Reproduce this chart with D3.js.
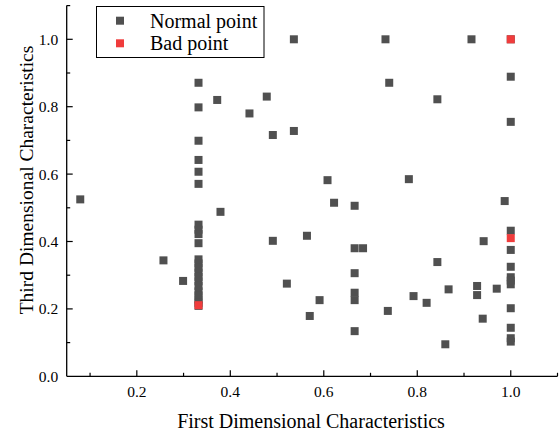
<!DOCTYPE html>
<html>
<head>
<meta charset="utf-8">
<script src="https://cdn.jsdelivr.net/npm/d3@7"></script>
<style>
  body { margin: 0; background: #fff; }
  text { font-family: "Liberation Serif", "Times New Roman", serif; fill: #000; }
</style>
</head>
<body>
<script>
// normal points (first dim, third dim)
var normalX = [0.079, 0.332, 0.332, 0.332, 0.332, 0.332, 0.332, 0.372, 0.379,
  0.332, 0.332, 0.332, 0.332, 0.332, 0.332, 0.332, 0.332, 0.332, 0.332, 0.332, 0.332, 0.332, 0.332, 0.332, 0.332,
  0.257, 0.299, 0.536, 0.732, 0.740, 0.478, 0.441, 0.491, 0.536, 0.608, 0.622,
  0.666, 0.491, 0.564, 0.666, 0.684, 0.666, 0.521, 0.591, 0.666, 0.666, 0.570, 0.666, 0.737,
  0.916, 1.0, 1.0, 0.843, 1.0, 0.782, 0.987, 1.0, 0.942, 1.0, 0.843, 1.0, 1.0, 1.0, 1.0,
  0.928, 0.928, 0.970, 0.867, 0.792, 0.820, 1.0, 0.940, 1.0, 1.0, 1.0, 0.860];
var normalY = [0.525, 0.871, 0.798, 0.699, 0.642, 0.607, 0.571, 0.820, 0.488,
  0.450, 0.435, 0.422, 0.395, 0.347, 0.335, 0.322, 0.308, 0.295, 0.282, 0.268, 0.252, 0.240, 0.228, 0.218, 0.209,
  0.344, 0.283, 1.0, 1.0, 0.871, 0.830, 0.780, 0.716, 0.728, 0.582, 0.515,
  0.506, 0.402, 0.417, 0.380, 0.380, 0.306, 0.275, 0.226, 0.248, 0.226, 0.179, 0.134, 0.194,
  1.0, 1.0, 0.889, 0.822, 0.755, 0.585, 0.520, 0.432, 0.401, 0.375, 0.339, 0.325, 0.294, 0.284, 0.273,
  0.268, 0.241, 0.260, 0.258, 0.238, 0.218, 0.202, 0.171, 0.144, 0.113, 0.103, 0.095];
// bad points
var badX = [0.332, 1.0, 1.0];
var badY = [0.211, 1.0, 0.410];

var xTicks = [0.2, 0.4, 0.6, 0.8, 1.0];
var yTicks = [0.0, 0.2, 0.4, 0.6, 0.8, 1.0];
var legendNames = ["Normal point", "Bad point"];
var colors = ["#505050", "#f03c3c"];

var width = 560, height = 432;
var svg = d3.select("body").append("svg")
    .attr("width", width)
    .attr("height", height);

var x = d3.scaleLinear().domain([0.05, 1.1]).range([66.7, 557.5]);
var y = d3.scaleLinear().domain([0, 1.1]).range([376.3, 5.6]);

// minor ticks every 0.1, majors are longer
var xMinor = d3.range(0.1, 1.11, 0.1);
var yMinor = d3.range(0.1, 1.11, 0.1);
function isMajor(list, d) {
    return list.some(function(t){ return Math.abs(t - d) < 1e-6; });
}

var xAxis = svg.append("g").attr("transform", "translate(0," + y(0) + ")");
xAxis.append("line").attr("x1", x.range()[0]).attr("x2", x.range()[1]).attr("stroke", "#000").attr("stroke-width", 1.3);
xAxis.selectAll(".minor").data(xMinor).enter().append("line")
    .attr("x1", function(d){ return x(d); }).attr("x2", function(d){ return x(d); })
    .attr("y1", 0).attr("y2", function(d){ return isMajor(xTicks, d) ? -6 : -3.5; })
    .attr("stroke", "#000").attr("stroke-width", 1.2);
xAxis.selectAll("text").data(xTicks).enter().append("text")
    .attr("x", function(d){ return x(d); })
    .attr("y", 21)
    .attr("text-anchor", "middle")
    .attr("font-size", 15.5)
    .text(function(d){ return d.toFixed(1); });

var yAxis = svg.append("g").attr("transform", "translate(" + x.range()[0] + ",0)");
yAxis.append("line").attr("y1", y.range()[0]).attr("y2", y.range()[1]).attr("stroke", "#000").attr("stroke-width", 1.3);
yAxis.selectAll(".minor").data(yMinor).enter().append("line")
    .attr("y1", function(d){ return y(d); }).attr("y2", function(d){ return y(d); })
    .attr("x1", 0).attr("x2", function(d){ return isMajor(yTicks, d) ? 6 : 3.5; })
    .attr("stroke", "#000").attr("stroke-width", 1.2);
yAxis.selectAll("text").data(yTicks).enter().append("text")
    .attr("x", -8.5)
    .attr("y", function(d){ return y(d) + 5.5; })
    .attr("text-anchor", "end")
    .attr("font-size", 15.5)
    .text(function(d){ return d.toFixed(1); });

// axis titles
svg.append("text")
    .attr("x", 311)
    .attr("y", 428)
    .attr("text-anchor", "middle")
    .attr("font-size", 20)
    .text("First Dimensional Characteristics");
svg.append("text")
    .attr("transform", "translate(32.5,180) rotate(-90)")
    .attr("text-anchor", "middle")
    .attr("font-size", 19.5)
    .text("Third Dimensional Characteristics");

// points
var normal = normalX.map(function(d, i){ return [d, normalY[i]]; });
var bad = badX.map(function(d, i){ return [d, badY[i]]; });
var s = 8;
svg.append("g").selectAll("rect").data(normal).enter().append("rect")
    .attr("x", function(d){ return x(d[0]) - s / 2; })
    .attr("y", function(d){ return y(d[1]) - s / 2; })
    .attr("width", s).attr("height", s)
    .attr("fill", colors[0]);
svg.append("g").selectAll("rect").data(bad).enter().append("rect")
    .attr("x", function(d){ return x(d[0]) - s / 2; })
    .attr("y", function(d){ return y(d[1]) - s / 2; })
    .attr("width", s).attr("height", s)
    .attr("fill", colors[1]);

// legend
var legend = svg.append("g");
legend.append("rect")
    .attr("x", 96.5).attr("y", 6.5).attr("width", 167.5).attr("height", 51)
    .attr("fill", "#fff").attr("stroke", "#000").attr("stroke-width", 1);
legendNames.forEach(function(name, i){
    legend.append("rect")
        .attr("x", 120 - s / 2).attr("y", 20.7 + i * 22.6 - s / 2)
        .attr("width", s).attr("height", s)
        .attr("fill", colors[i]);
    legend.append("text")
        .attr("x", 150).attr("y", 27.5 + i * 22.6)
        .attr("font-size", 20)
        .text(name);
});
</script>
</body>
</html>
